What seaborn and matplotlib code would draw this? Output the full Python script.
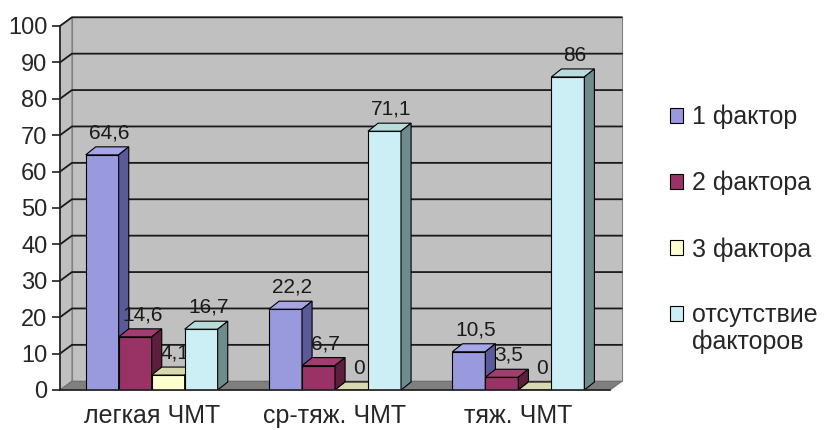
import numpy as np
import pandas as pd
import matplotlib
matplotlib.use("Agg")
import matplotlib.pyplot as plt
from matplotlib.patches import Polygon, Patch
import seaborn as sns

# data
groups = ["легкая ЧМТ", "ср-тяж. ЧМТ", "тяж. ЧМТ"]
series = ["1 фактор", "2 фактора", "3 фактора", "отсутствие\nфакторов"]
f1 = [64.6, 22.2, 10.5]
f2 = [14.6, 6.7, 3.5]
f3 = [4.1, 0, 0]
f_none = [16.7, 71.1, 86]
y_ticks = [0, 10, 20, 30, 40, 50, 60, 70, 80, 90, 100]

front_colors = ["#9999DD", "#993366", "#FFFFD0", "#CCEEF5"]
top_colors = ["#A5A5E8", "#A33D70", "#D9D9B0", "#B8DCDC"]
side_colors = ["#5A5A99", "#5E1E3E", "#B0B08A", "#6E8C8C"]

rows = []
for name, vals in zip(series, [f1, f2, f3, f_none]):
    for g, v in zip(groups, vals):
        rows.append({"group": g, "series": name, "value": v})
df = pd.DataFrame(rows)

sns.set_style("white")
plt.rcParams["font.family"] = ["Liberation Sans", "DejaVu Sans"]

fig = plt.figure(figsize=(8.29, 4.30), dpi=100)
ax = fig.add_axes([60 / 829, 40 / 430, 550 / 829, 364 / 430])
ax.set_facecolor("none")

# 3d offsets in data units
wdx, wdy = 0.065, 2.4
bdx, bdy = 0.055, 2.2

# walls and floor
wall_kw = dict(facecolor="#C0C0C0", edgecolor="#808080", lw=0.8, clip_on=False, zorder=0)
ax.add_patch(Polygon([(-0.5 + wdx, wdy), (2.5 + wdx, wdy), (2.5 + wdx, 100 + wdy),
                      (-0.5 + wdx, 100 + wdy)], **wall_kw))
ax.add_patch(Polygon([(-0.5, 0), (-0.5 + wdx, wdy), (-0.5 + wdx, 100 + wdy), (-0.5, 100)], **wall_kw))
ax.add_patch(Polygon([(-0.5, 0), (2.5, 0), (2.5 + wdx, wdy), (-0.5 + wdx, wdy)],
                     facecolor="#7F7F7F", edgecolor="#707070", lw=0.8, clip_on=False, zorder=0.5))
for t in y_ticks[1:]:
    ax.plot([-0.5, -0.5 + wdx, 2.5 + wdx], [t, t + wdy, t + wdy], color="#1a1a1a",
            lw=1.3, clip_on=False, zorder=0.8)

sns.barplot(data=df, x="group", y="value", hue="series", palette=front_colors,
            width=0.72, saturation=1, edgecolor="black", linewidth=0.8,
            legend=False, ax=ax)

for i, cont in enumerate(ax.containers):
    z = 3 + i
    for bar in cont:
        x0, w, h = bar.get_x(), bar.get_width(), bar.get_height()
        bar.set_zorder(z)
        ax.add_patch(Polygon([(x0, h), (x0 + w, h), (x0 + w + bdx, h + bdy), (x0 + bdx, h + bdy)],
                             facecolor=top_colors[i], edgecolor="black", lw=0.8, zorder=z))
        ax.add_patch(Polygon([(x0 + w, 0), (x0 + w + bdx, bdy), (x0 + w + bdx, h + bdy), (x0 + w, h)],
                             facecolor=side_colors[i], edgecolor="black", lw=0.8, zorder=z))
        txt = f"{h:g}".replace(".", ",")
        ax.text(x0 + w / 2 + bdx * 0.7, h + bdy + 1.2, txt, ha="center", va="bottom",
                fontsize=15, color="#1a1a1a", zorder=z + 0.5)

ax.set_xlim(-0.5, 2.5)
ax.set_ylim(0, 100)
ax.set_yticks(y_ticks)
ax.set_xlabel("")
ax.set_ylabel("")
ax.set_xticks([-0.5, 0.5, 1.5, 2.5], minor=True)
ax.tick_params(axis="x", which="major", length=0, labelsize=18, pad=10)
ax.tick_params(axis="x", which="minor", length=6, width=1.2, color="#202020", direction="out")
ax.tick_params(axis="y", length=6, width=1.2, color="#202020", direction="out",
               labelsize=17, pad=3, left=True)
for s in ["top", "right"]:
    ax.spines[s].set_visible(False)
for s in ["left", "bottom"]:
    ax.spines[s].set_color("#202020")
    ax.spines[s].set_linewidth(1.2)
    ax.spines[s].set_zorder(10)

# legend: handle sits on the first line of the two-line label
handles = [Patch(facecolor=c, edgecolor="black", lw=0.8) for c in front_colors]
first_lines = [s.split("\n")[0] for s in series]
leg = fig.legend(handles, first_lines, loc="upper left", bbox_to_anchor=(657 / 829, 1 - 92 / 430),
                 frameon=False, fontsize=18, handlelength=0.55, handleheight=0.55,
                 handletextpad=0.35, labelspacing=1.67, borderpad=0)
fig.canvas.draw()
last = leg.get_texts()[-1]
bb = last.get_window_extent()
fig.text(bb.x0 / fig.bbox.width, (bb.y0 - 27) / fig.bbox.height, series[-1].split("\n")[1],
         fontsize=18, ha="left", va="bottom")

fig.savefig("out.png", dpi=100)
